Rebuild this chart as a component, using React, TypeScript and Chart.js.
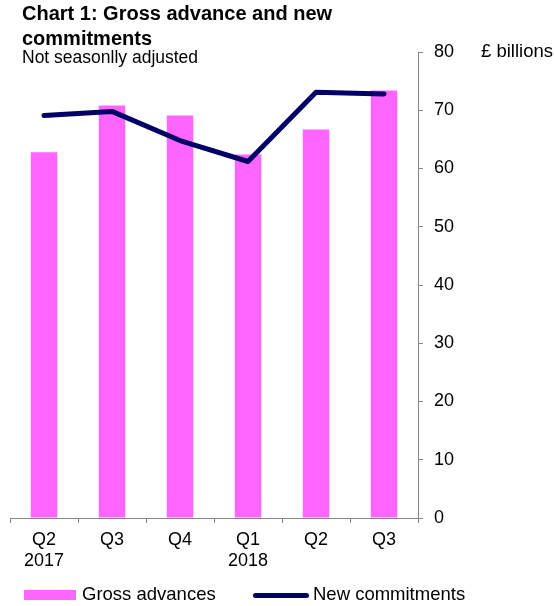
import React, { useEffect, useRef } from "react";
import { Chart, registerables } from "chart.js";

Chart.register(...registerables);

const categories: string[][] = [["Q2", "2017"], ["Q3"], ["Q4"], ["Q1", "2018"], ["Q2"], ["Q3"]];
const grossAdvances: number[] = [62.8, 70.8, 69.1, 62.4, 66.7, 73.4];
const newCommitments: number[] = [69.1, 69.8, 64.8, 61.2, 73.1, 72.8];
const yTickMin = 0;
const yTickMax = 80;
const yTickStep = 10;

const FONT = "'Liberation Sans', Arial, sans-serif";
const PINK = "#FF66FF";
const NAVY = "#000066";
const GRAY = "#868686";

export default function App() {
  const canvasRef = useRef<HTMLCanvasElement | null>(null);

  useEffect(() => {
    const canvas = canvasRef.current;
    if (!canvas) return;
    const chart = new Chart(canvas, {
      type: "bar",
      data: {
        labels: categories as any,
        datasets: [
          {
            type: "line",
            label: "New commitments",
            data: newCommitments,
            borderColor: NAVY,
            backgroundColor: NAVY,
            borderWidth: 5,
            borderCapStyle: "round",
            borderJoinStyle: "round",
            pointRadius: 0,
            tension: 0,
            order: 0,
          } as any,
          {
            type: "bar",
            label: "Gross advances",
            data: grossAdvances,
            backgroundColor: PINK,
            borderWidth: 0,
            categoryPercentage: 1,
            barPercentage: 0.39,
            order: 1,
          } as any,
        ],
      },
      options: {
        responsive: false,
        animation: false,
        layout: { padding: { left: 10, top: 52, right: 0, bottom: 0 } },
        plugins: {
          legend: { display: false },
          title: { display: false },
          tooltip: { enabled: false },
        },
        scales: {
          x: {
            type: "category",
            offset: true,
            grid: {
              offset: true,
              drawOnChartArea: false,
              drawTicks: true,
              tickLength: 5,
              color: GRAY,
            },
            border: { display: true, color: GRAY, width: 1 },
            ticks: {
              font: { family: FONT, size: 18, lineHeight: 1.15 },
              color: "#000",
              padding: 7,
              maxRotation: 0,
              autoSkip: false,
            },
            afterFit: (s: any) => {
              s.height = 88;
            },
          },
          y: {
            position: "right",
            min: yTickMin,
            max: yTickMax,
            grid: {
              drawOnChartArea: false,
              drawTicks: true,
              tickLength: 5,
              color: GRAY,
            },
            border: { display: true, color: GRAY, width: 1 },
            ticks: {
              stepSize: yTickStep,
              font: { family: FONT, size: 18 },
              color: "#000",
              padding: 11,
            },
            afterFit: (s: any) => {
              s.width = 136;
            },
          },
        },
      } as any,
    });
    return () => chart.destroy();
  }, []);

  const abs = (o: React.CSSProperties): React.CSSProperties => ({ position: "absolute", whiteSpace: "nowrap", ...o });

  return (
    <div style={{ position: "absolute", left: 0, top: 0, width: 554, height: 606, fontFamily: FONT, color: "#000", background: "#fff", overflow: "hidden" }}>
      <canvas ref={canvasRef} width={554} height={606} style={{ position: "absolute", left: 0, top: 0, width: 554, height: 606 }} />
      <div style={abs({ left: 22, top: 1, fontSize: 20, fontWeight: "bold", lineHeight: "24.5px" })}>
        Chart 1: Gross advance and new
        <br />
        commitments
      </div>
      <div style={abs({ left: 22, top: 46.6, fontSize: 17.5, lineHeight: "20px" })}>Not seasonlly adjusted</div>
      <div style={abs({ left: 481, top: 40.5, fontSize: 18.5, lineHeight: "20px" })}>£ billions</div>
      <div style={abs({ left: 24, top: 590, width: 52, height: 10, background: PINK })} />
      <div style={abs({ left: 82, top: 583.8, fontSize: 18.5, lineHeight: "20px" })}>Gross advances</div>
      <div style={abs({ left: 253, top: 592.5, width: 56, height: 5, borderRadius: 2.5, background: NAVY })} />
      <div style={abs({ left: 313, top: 583.8, fontSize: 18.5, lineHeight: "20px" })}>New commitments</div>
    </div>
  );
}
